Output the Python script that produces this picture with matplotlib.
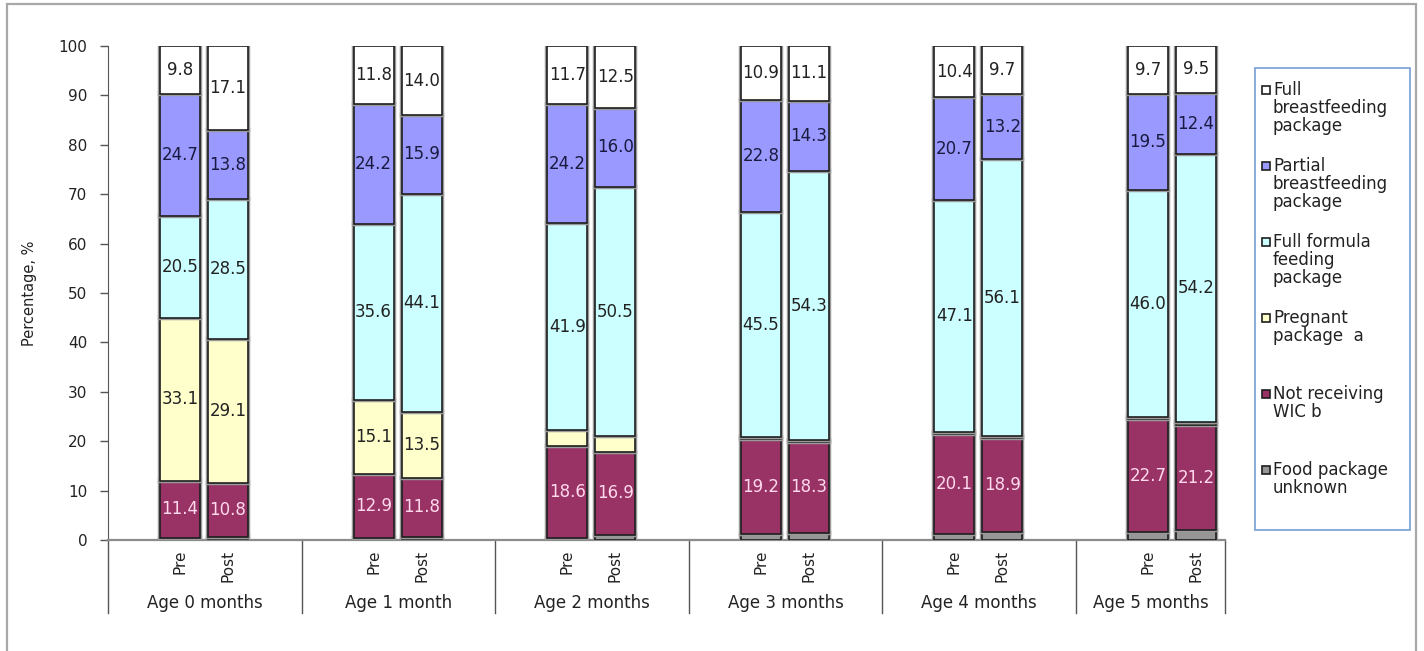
import numpy as np
import matplotlib
matplotlib.use('Agg')
import matplotlib.pyplot as plt
import matplotlib.patheffects as pe
from matplotlib.patches import Rectangle
import matplotlib.transforms as mtransforms

plt.rcParams['font.family'] = ['DejaVu Sans']

ages = ['Age 0 months', 'Age 1 month', 'Age 2 months',
        'Age 3 months', 'Age 4 months', 'Age 5 months']
periods = ['Pre', 'Post']

# values ordered Pre, Post for each age group (bottom -> top of stack)
food_unknown = [0.5, 0.7, 0.4, 0.7, 0.5, 1.0, 1.2, 1.5, 1.3, 1.7, 1.7, 2.0]
not_wic      = [11.4, 10.8, 12.9, 11.8, 18.6, 16.9, 19.2, 18.3, 20.1, 18.9, 22.7, 21.2]
pregnant     = [33.1, 29.1, 15.1, 13.5, 3.1, 3.1, 0.4, 0.5, 0.4, 0.4, 0.4, 0.7]
full_formula = [20.5, 28.5, 35.6, 44.1, 41.9, 50.5, 45.5, 54.3, 47.1, 56.1, 46.0, 54.2]
partial_bf   = [24.7, 13.8, 24.2, 15.9, 24.2, 16.0, 22.8, 14.3, 20.7, 13.2, 19.5, 12.4]
full_bf      = [9.8, 17.1, 11.8, 14.0, 11.7, 12.5, 10.9, 11.1, 10.4, 9.7, 9.7, 9.5]

series = [food_unknown, not_wic, pregnant, full_formula, partial_bf, full_bf]
names = ['Food package\nunknown', 'Not receiving\nWIC b', 'Pregnant\npackage  a',
         'Full formula\nfeeding\npackage', 'Partial\nbreastfeeding\npackage',
         'Full\nbreastfeeding\npackage']
colors = ['#969696', '#993366', '#FFFFCC', '#CCFFFF', '#9999FF', '#FFFFFF']
txt_colors = ['#222222', '#FFD9EC', '#222222', '#222222', '#1a1a40', '#222222']

W, H = 1424, 651
fig = plt.figure(figsize=(W / 100, H / 100), dpi=100)

# outer frame
fig.patches.append(Rectangle((7 / W, -0.05), (1416 - 7) / W, 1.05 - 4 / H,
                             transform=fig.transFigure, fill=False,
                             edgecolor='#A8A8A8', lw=1.6))

gw = 193.6  # px per group
x_left, x_right, y_bot, y_top = 108, 1225, 540, 46
ax = fig.add_axes([x_left / W, 1 - y_bot / H, (x_right - x_left) / W, (y_bot - y_top) / H])
xmax = (x_right - x_left) / gw
ax.set_xlim(0, xmax)
ax.set_ylim(0, 100)

offsets = [0.372, 0.62]
bw = 0.207
xs = np.array([g + offsets[p] for g in range(len(ages)) for p in range(2)])

bottom = np.zeros(len(xs))
for vals, col, tc in zip(series, colors, txt_colors):
    vals = np.array(vals)
    bars = ax.bar(xs, vals, bw, bottom=bottom, color=col, edgecolor='#1e1e1e',
                  lw=1.2, zorder=3)
    for b in bars:
        b.set_path_effects([pe.Stroke(linewidth=3.2, foreground='#9a9a9a'), pe.Normal()])
    for x, v, b0 in zip(xs, vals, bottom):
        if v >= 5:
            ax.text(x, b0 + v / 2, f'{v:.1f}', ha='center', va='center',
                    fontsize=12, color=tc, zorder=5)
    bottom += vals

# axes styling
for s in ['top', 'right']:
    ax.spines[s].set_visible(False)
ax.spines['left'].set_color('#555555')
ax.spines['bottom'].set_color('#8c8c8c')
ax.spines['bottom'].set_linewidth(1.6)
ax.set_yticks(np.arange(0, 101, 10))
ax.tick_params(axis='y', direction='out', length=6, width=1, color='#555555',
               labelsize=11, labelcolor='#222222', pad=9)
ax.set_xticks([])
ax.set_ylabel('Percentage, %', fontsize=10.5, color='#222222')
ax.yaxis.set_label_coords((37 - x_left) / (x_right - x_left), 0.5)

# category labels below the axis
trans = mtransforms.blended_transform_factory(ax.transData, ax.transAxes)
ph = y_bot - y_top
for g, age in enumerate(ages):
    for p, per in enumerate(periods):
        ax.text(g + offsets[p], -10 / ph, per, rotation=90, ha='center', va='top',
                fontsize=11, color='#222222', transform=trans)
    xc = (g + min(g + 1, xmax)) / 2
    ax.text(xc, -(603 - y_bot) / ph, age, ha='center', va='center',
            fontsize=12, color='#222222', transform=trans)
for sx in list(range(len(ages))) + [xmax]:
    ax.plot([sx, sx], [0, -(613 - y_bot) / ph], color='#555555', lw=1,
            transform=trans, clip_on=False)

# legend box
fig.patches.append(Rectangle((1255 / W, 1 - 530 / H), (1410 - 1255) / W, (530 - 68) / H,
                             transform=fig.transFigure, fill=False,
                             edgecolor='#7FA6D9', lw=1.3))
for i, (nm, col) in enumerate(zip(names[::-1], colors[::-1])):
    yc = 90 + i * 76
    fig.patches.append(Rectangle((1262 / W, 1 - (yc + 4) / H), 8 / W, 8 / H,
                                 transform=fig.transFigure, facecolor=col,
                                 edgecolor='#1e1e1e', lw=1.2))
    fig.text(1273 / W, 1 - (yc - 9) / H, nm, ha='left', va='top', fontsize=12,
             color='#222222', linespacing=1.0)

fig.savefig('out.png', dpi=100)
